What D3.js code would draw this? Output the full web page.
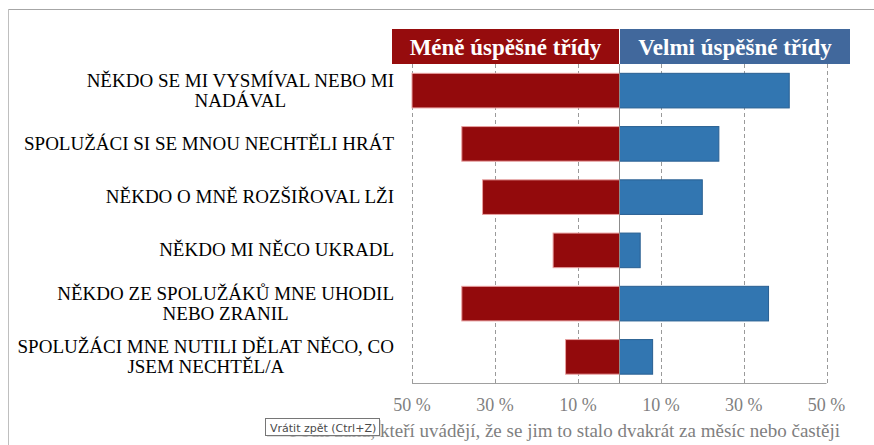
<!DOCTYPE html>
<html><head><meta charset="utf-8">
<script src="https://cdn.jsdelivr.net/npm/d3@7"></script>
<style>html,body{margin:0;padding:0;background:#fff;}svg{display:block;}</style>
</head><body>
<svg id="c" width="874" height="445"></svg>
<script>
const categories = [
  ["NĚKDO SE MI VYSMÍVAL NEBO MI", "NADÁVAL"],
  ["SPOLUŽÁCI SI SE MNOU NECHTĚLI HRÁT"],
  ["NĚKDO O MNĚ ROZŠIŘOVAL LŽI"],
  ["NĚKDO MI NĚCO UKRADL"],
  ["NĚKDO ZE SPOLUŽÁKŮ MNE UHODIL", "NEBO ZRANIL"],
  ["SPOLUŽÁCI MNE NUTILI DĚLAT NĚCO, CO", "JSEM NECHTĚL/A"]
];
const seriesNames = ["Méně úspěšné třídy", "Velmi úspěšné třídy"];
const lessSuccessful = [50, 38, 33, 16, 38, 13];
const verySuccessful = [41, 24, 20, 5, 36, 8];
const tickValues = [10, 30, 50];
const tickLabel = v => v + " %";
const footnote = "Podíl žáků, kteří uvádějí, že se jim to stalo dvakrát za měsíc nebo častěji";

(function () {
const svg = d3.select("#c");
const serif = "'Liberation Serif','Times New Roman',serif";
const cx = 619.5, plotTop = 64, plotBottom = 383.5;

const xL = d3.scaleLinear().domain([0, 50]).range([cx, 412]);
const xR = d3.scaleLinear().domain([0, 50]).range([cx, 826.5]);
const ids = categories.map((d, i) => i);
const y = d3.scaleBand().domain(ids).range([plotTop, plotBottom]).paddingInner(0.35).paddingOuter(0.175);

// frame
svg.append("line").attr("x1", 8).attr("x2", 874).attr("y1", 9.5).attr("y2", 9.5).attr("stroke", "#a6a6a6");
svg.append("line").attr("x1", 8.5).attr("x2", 8.5).attr("y1", 9).attr("y2", 445).attr("stroke", "#bfbfbf");

// gridlines
const g = svg.append("g");
tickValues.forEach(v => {
  [xL(v), xR(v)].forEach(x => {
    g.append("line").attr("x1", Math.round(x) + 0.5).attr("x2", Math.round(x) + 0.5)
      .attr("y1", plotTop).attr("y2", plotBottom).attr("stroke", "#9a9a9a").attr("stroke-dasharray", "4,3");
  });
});

// bars
svg.append("g").selectAll("rect").data(ids).join("rect")
  .attr("x", i => xL(lessSuccessful[i])).attr("y", i => y(i))
  .attr("width", i => xL(0) - xL(lessSuccessful[i])).attr("height", y.bandwidth())
  .attr("fill", "#930a0c").attr("stroke", "#e8a0a0").attr("stroke-width", 1);
svg.append("g").selectAll("rect").data(ids).join("rect")
  .attr("x", xR(0)).attr("y", i => y(i))
  .attr("width", i => xR(verySuccessful[i]) - xR(0)).attr("height", y.bandwidth())
  .attr("fill", "#3276b1").attr("stroke", "#285f92").attr("stroke-width", 1);

// center and bottom axis lines
svg.append("line").attr("x1", cx).attr("x2", cx).attr("y1", plotTop).attr("y2", plotBottom).attr("stroke", "#8c8c8c");
svg.append("line").attr("x1", xL(50)).attr("x2", xR(50)).attr("y1", plotBottom).attr("y2", plotBottom).attr("stroke", "#a0a0a0").attr("stroke-width", 1.2);

// tick labels
const tl = svg.append("g").attr("font-family", serif).attr("font-size", 18).attr("fill", "#7f7f7f").attr("text-anchor", "middle");
tickValues.forEach(v => {
  tl.append("text").attr("x", xL(v)).attr("y", 411).text(tickLabel(v));
  tl.append("text").attr("x", xR(v)).attr("y", 411).text(tickLabel(v));
});

// header
svg.append("rect").attr("x", 392).attr("y", 29).attr("width", 227).attr("height", 35).attr("fill", "#960c0d");
svg.append("rect").attr("x", 620).attr("y", 29).attr("width", 230).attr("height", 35).attr("fill", "#41689c");
svg.append("text").attr("x", 505.5).attr("y", 55).attr("text-anchor", "middle").attr("font-family", serif)
  .attr("font-weight", "bold").attr("font-size", 23).attr("fill", "#fff").text(seriesNames[0]);
svg.append("text").attr("x", 735).attr("y", 55).attr("text-anchor", "middle").attr("font-family", serif)
  .attr("font-weight", "bold").attr("font-size", 23).attr("fill", "#fff").text(seriesNames[1]);

// category labels
const lab = svg.append("g").attr("font-family", serif).attr("font-size", 19).attr("fill", "#000");
categories.forEach((lines, i) => {
  const cyc = y(i) + y.bandwidth() / 2;
  const lh = 20;
  const t = lab.append("text").attr("text-anchor", "middle");
  const tspans = lines.map(s => t.append("tspan").text(s));
  const w = d3.max(tspans, s => s.node().getComputedTextLength());
  const xc = 394 - w / 2;
  tspans.forEach((s, k) => s.attr("x", xc).attr("y", cyc + (k - (lines.length - 1) / 2) * lh + 6));
});

// footnote
svg.append("text").attr("x", 840).attr("y", 437).attr("text-anchor", "end").attr("font-family", serif)
  .attr("font-size", 19).attr("fill", "#7f7f7f").text(footnote);

// tooltip overlay
const tip = svg.append("g");
tip.append("rect").attr("x", 267).attr("y", 420).attr("width", 114).attr("height", 17).attr("fill", "#c8c8c8").attr("opacity", 0.6);
tip.append("rect").attr("x", 265.5).attr("y", 418.5).attr("width", 114).attr("height", 17).attr("fill", "#fff").attr("stroke", "#767676");
tip.append("text").attr("x", 270).attr("y", 431.5).attr("font-family", "'DejaVu Sans','Noto Sans',sans-serif")
  .attr("font-size", 11).attr("fill", "#4a4a4a").text("Vrátit zpět (Ctrl+Z)");
})();
</script>
</body></html>
